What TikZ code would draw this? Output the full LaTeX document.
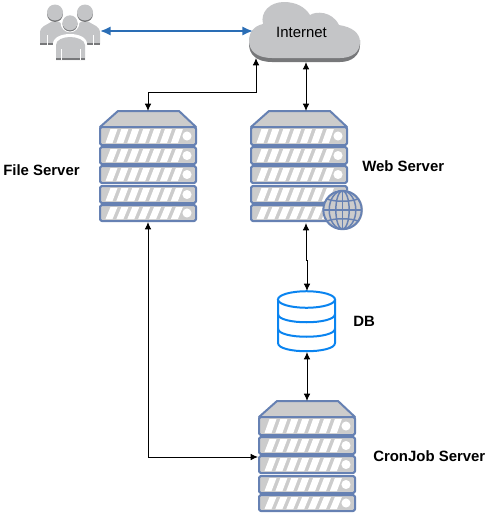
\documentclass[tikz,border=0pt]{standalone}
\usepackage{fontspec}
\setmainfont{Liberation Sans}
\usetikzlibrary{arrows.meta}
\definecolor{srvblue}{HTML}{6681B3}
\definecolor{srvgray}{HTML}{CCCCCC}
\definecolor{cloudgray}{HTML}{C4C5C7}
\definecolor{shadegray}{HTML}{77787A}
\definecolor{dbblue}{HTML}{0A84F0}
\definecolor{linkblue}{HTML}{2A6DB5}
\tikzset{
  x=0.75pt,y=-0.75pt,
  link/.style={draw=black,line width=0.75pt,{Latex[length=5.5pt,width=5pt]}-{Latex[length=5.5pt,width=5pt]}},
  bluelink/.style={draw=linkblue,line width=1.5pt,{Latex[length=8pt,width=7pt]}-{Latex[length=8pt,width=7pt]}},
  anchorbox/.style={inner sep=0pt,outer sep=0pt,minimum width=73.5pt,draw=none},
  lbl/.style={font=\fontsize{11.2}{13}\selectfont\bfseries,inner sep=0pt,anchor=west},
  plain/.style={font=\fontsize{11.2}{13}\selectfont,inner sep=0pt},
  srvline/.style={draw=srvblue,line width=1.5pt,line join=round},
  dbline/.style={draw=dbblue,line width=1.5pt},
  pics/rackserver/.style={code={
    \path[srvline,fill=srvgray] (1,16) -- (19,0) -- (80,0) -- (97,16) -- cycle;
    \foreach \t/\b in {16/34,36/53,55/72,75/92,94/110}{
      \path[srvline,fill=srvgray,rounded corners=1.2pt] (1,\t) rectangle (97,\b);
      \foreach \i in {0,...,6}{
        \fill[white] ({6.5+10.9*\i},{\b-2}) -- ({13.5+10.9*\i},{\b-2}) -- ({18.5+10.9*\i},{\t+2}) -- ({11.5+10.9*\i},{\t+2}) -- cycle;
      }
      \fill[white] (88,{(\t+\b)/2}) circle[radius=3.4pt];
    }
  }},
  pics/person/.style={code={
    \fill[shadegray] (0,1) circle[radius=8];
    \fill[cloudgray] (0,-0.5) circle[radius=8];
    \fill[cloudgray] (-15,31) -- (-15,20) .. controls (-15,13) and (-8,12) .. (-4,9) -- (4,9) .. controls (8,12) and (15,13) .. (15,20) -- (15,31) -- cycle;
    \fill[shadegray] (-15,29.5) rectangle (15,31.5);
    \fill[white] (-8.5,22) rectangle (-7.5,31.5);
    \fill[white] (7.5,22) rectangle (8.5,31.5);
  }}
}
\begin{document}
\begin{tikzpicture}
\useasboundingbox (0,0) rectangle (503,514);
% users
\pic at (55,13) {person};
\pic at (85,13) {person};
\fill[white] (70,23) circle[radius=7pt];
\fill[shadegray] (70,24) circle[radius=7.5];
\fill[cloudgray] (70,22.8) circle[radius=7.5];
\path[fill=white] (53,61) -- (53,44) .. controls (53,37) and (62,34) .. (70,34) .. controls (78,34) and (87,37) .. (87,44) -- (87,61) -- cycle;
\path[fill=cloudgray] (56,60) -- (56,45) .. controls (56,40) and (63,37) .. (70,37) .. controls (77,37) and (85,40) .. (85,45) -- (85,60) -- cycle;
\fill[shadegray] (56,57.5) rectangle (85,60);
\fill[white] (61,49) rectangle (62,60);
\fill[white] (79.5,49) rectangle (80.5,60);
\node[anchorbox,minimum width=45pt,minimum height=43pt] (users) at (70,31) {};
% cloud
\path[fill=shadegray] (272,62) .. controls (256,62) and (249,54) .. (249,44) -- (249,40) -- (360,40) -- (360,45) .. controls (360,55) and (352,62) .. (340,62) -- cycle;
\path[fill=cloudgray] (272,58) .. controls (256,58) and (249,50) .. (249,41) .. controls (249,32) and (254,26) .. (263,24) .. controls (260,12) and (270,2) .. (284,2) .. controls (296,2) and (305,7) .. (310,15) .. controls (316,11) and (332,11) .. (339,25) .. controls (352,27) and (360,33) .. (360,42) .. controls (360,52) and (352,58) .. (340,58) -- cycle;
\node[plain,minimum width=83.25pt,minimum height=45pt] (cloud) at (301.5,32) {Internet};
% servers
\pic at (99,111) {rackserver};
\node[anchorbox,minimum height=83.25pt] (file) at (148,166.5) {};
\pic at (250,111) {rackserver};
\node[anchorbox,minimum height=83.25pt] (web) at (299,166.5) {};
\fill[srvgray] (343,210) circle[radius=15pt];
\draw[srvline,fill=srvgray] (342.5,210) circle[radius=14.4pt];
\draw[srvline,line width=1.1pt] (342.5,210) ellipse[x radius=10pt,y radius=14.4pt];
\draw[srvline,line width=1.1pt] (342.5,210) ellipse[x radius=5pt,y radius=14.4pt];
\draw[srvline,line width=1.1pt] (342.5,190.8) -- (342.5,229.2);
\draw[srvline,line width=1.1pt] (323.3,210) -- (361.7,210);
\draw[srvline,line width=1.1pt] (327,199) .. controls (335,202) and (350,202) .. (358,199);
\draw[srvline,line width=1.1pt] (327,221) .. controls (335,218) and (350,218) .. (358,221);
\pic at (258,401) {rackserver};
\node[anchorbox,minimum height=83.25pt] (cron) at (307,456.5) {};
% database
\node[anchorbox,minimum width=43pt,minimum height=45.75pt] (db) at (306.5,321.5) {};
\draw[dbline,fill=white] (278,300) -- (278,343) .. controls (278,354) and (335,354) .. (335,343) -- (335,300);
\draw[dbline] (278,328.5) .. controls (278,339.5) and (335,339.5) .. (335,328.5);
\draw[dbline] (278,314) .. controls (278,325) and (335,325) .. (335,314);
\draw[dbline,fill=white] (306.5,299.5) ellipse[x radius=21.4pt,y radius=6.2pt];
% labels
\node[lbl] (filelbl) at (3,170) {File Server};
\node[lbl] (weblbl) at (362,166) {Web Server};
\node[lbl] (dblbl) at (353,321) {DB};
\node[lbl] (cronlbl) at (373,456) {CronJob Server};
% connectors
\coordinate (cloudleft) at (256,58);
\coordinate (cloudbottom) at (306,62);
\coordinate (webtop) at (306,111);
\coordinate (webbottom) at (306,223);
\coordinate (dbtop) at (307,291);
\coordinate (dbbottom) at (307,352);
\coordinate (crontop) at (307,401);
\coordinate (usersright) at (100,31);
\coordinate (cloudwest) at (253,31);
\draw[bluelink] (usersright) -- (cloudwest);
\draw[link] (file.north) -- (148,92) -- (256,92) -- (cloudleft);
\draw[link] (cloudbottom) -- (webtop);
\draw[link] (webbottom) -- (306,260) -- (307,260) -- (dbtop);
\draw[link] (dbbottom) -- (crontop);
\draw[link] (file.south) -- (148,457) -- (258,457);
\end{tikzpicture}
\end{document}
